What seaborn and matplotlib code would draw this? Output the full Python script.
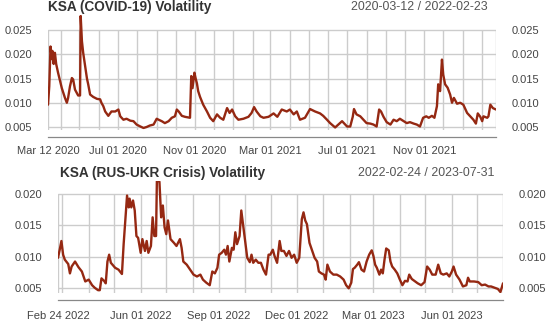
import numpy as np
import pandas as pd
import matplotlib
matplotlib.use("Agg")
import matplotlib.pyplot as plt
import matplotlib.dates as mdates
import seaborn as sns

# ---------------- data ----------------
covid_title = "KSA (COVID-19) Volatility"
covid_range = "2020-03-12 / 2022-02-23"
covid_start, covid_end = "2020-03-12", "2022-02-23"
covid_dates = [
    "2020-03-12", "2020-03-14", "2020-03-16", "2020-03-18", "2020-03-19", "2020-03-21", "2020-03-23",
    "2020-03-25", "2020-03-28", "2020-04-03", "2020-04-08", "2020-04-11", "2020-04-13", "2020-04-16",
    "2020-04-19", "2020-04-21", "2020-04-24", "2020-04-27", "2020-04-29", "2020-05-02", "2020-05-03",
    "2020-05-05", "2020-05-07", "2020-05-10", "2020-05-13", "2020-05-15", "2020-05-18", "2020-05-23",
    "2020-05-29", "2020-06-03", "2020-06-05", "2020-06-08", "2020-06-11", "2020-06-16", "2020-06-21",
    "2020-06-27", "2020-07-02", "2020-07-05", "2020-07-10", "2020-07-15", "2020-07-21", "2020-07-26",
    "2020-07-31", "2020-08-06", "2020-08-11", "2020-08-16", "2020-08-21", "2020-08-27", "2020-09-01",
    "2020-09-04", "2020-09-09", "2020-09-14", "2020-09-20", "2020-09-25", "2020-09-30", "2020-10-03",
    "2020-10-06", "2020-10-11", "2020-10-16", "2020-10-24", "2020-10-26", "2020-10-28", "2020-10-31",
    "2020-11-02", "2020-11-04", "2020-11-06", "2020-11-09", "2020-11-14", "2020-11-20", "2020-11-25",
    "2020-11-30", "2020-12-06", "2020-12-11", "2020-12-16", "2020-12-22", "2020-12-26", "2020-12-30",
    "2021-01-04", "2021-01-09", "2021-01-17", "2021-01-25", "2021-01-30", "2021-02-03", "2021-02-07",
    "2021-02-13", "2021-02-18", "2021-02-26", "2021-03-06", "2021-03-12", "2021-03-19", "2021-03-27",
    "2021-04-01", "2021-04-07", "2021-04-12", "2021-04-17", "2021-04-25", "2021-05-03", "2021-05-11",
    "2021-05-19", "2021-05-24", "2021-05-30", "2021-06-04", "2021-06-12", "2021-06-17", "2021-06-23",
    "2021-06-28", "2021-07-01", "2021-07-06", "2021-07-10", "2021-07-12", "2021-07-16", "2021-07-22",
    "2021-07-27", "2021-08-01", "2021-08-07", "2021-08-12", "2021-08-17", "2021-08-21", "2021-08-24",
    "2021-08-28", "2021-09-02", "2021-09-08", "2021-09-13", "2021-09-18", "2021-09-23", "2021-09-29",
    "2021-10-04", "2021-10-09", "2021-10-15", "2021-10-20", "2021-10-25", "2021-10-30", "2021-11-04",
    "2021-11-08", "2021-11-13", "2021-11-17", "2021-11-21", "2021-11-23", "2021-11-26", "2021-11-29",
    "2021-12-01", "2021-12-04", "2021-12-08", "2021-12-12", "2021-12-15", "2021-12-18", "2021-12-23",
    "2021-12-28", "2022-01-02", "2022-01-08", "2022-01-13", "2022-01-18", "2022-01-22", "2022-01-25",
    "2022-01-29", "2022-02-01", "2022-02-03", "2022-02-09", "2022-02-11", "2022-02-14", "2022-02-18",
    "2022-02-23",
]
covid_vol = [
    0.0096, 0.0134, 0.0216, 0.0190, 0.0207, 0.0180, 0.0203,
    0.0180, 0.0162, 0.0130, 0.0110, 0.0100, 0.0110, 0.0134,
    0.0151, 0.0148, 0.0127, 0.0120, 0.0115, 0.0115, 0.0279,
    0.0227, 0.0203, 0.0176, 0.0150, 0.0138, 0.0117, 0.0112,
    0.0108, 0.0107, 0.0100, 0.0093, 0.0082, 0.0073, 0.0082,
    0.0082, 0.0086, 0.0072, 0.0065, 0.0067, 0.0063, 0.0062,
    0.0055, 0.0051, 0.0048, 0.0050, 0.0053, 0.0055, 0.0067,
    0.0065, 0.0062, 0.0058, 0.0062, 0.0069, 0.0072, 0.0086,
    0.0082, 0.0073, 0.0071, 0.0069, 0.0155, 0.0130, 0.0162,
    0.0150, 0.0140, 0.0124, 0.0112, 0.0096, 0.0082, 0.0069,
    0.0062, 0.0076, 0.0069, 0.0065, 0.0089, 0.0079, 0.0086,
    0.0072, 0.0065, 0.0067, 0.0071, 0.0079, 0.0091, 0.0082,
    0.0072, 0.0069, 0.0071, 0.0078, 0.0071, 0.0086, 0.0082,
    0.0086, 0.0076, 0.0082, 0.0065, 0.0069, 0.0087, 0.0082,
    0.0078, 0.0073, 0.0065, 0.0058, 0.0049, 0.0055, 0.0062,
    0.0055, 0.0051, 0.0051, 0.0071, 0.0087, 0.0076, 0.0072,
    0.0065, 0.0058, 0.0057, 0.0055, 0.0051, 0.0086, 0.0082,
    0.0071, 0.0060, 0.0055, 0.0065, 0.0062, 0.0067, 0.0062,
    0.0058, 0.0060, 0.0057, 0.0055, 0.0051, 0.0069, 0.0072,
    0.0069, 0.0073, 0.0069, 0.0093, 0.0138, 0.0124, 0.0189,
    0.0158, 0.0138, 0.0131, 0.0117, 0.0100, 0.0110, 0.0098,
    0.0100, 0.0096, 0.0079, 0.0072, 0.0065, 0.0057, 0.0078,
    0.0071, 0.0062, 0.0072, 0.0069, 0.0072, 0.0096, 0.0089,
    0.0086,
]
covid_yticks = [0.005, 0.010, 0.015, 0.020, 0.025]
covid_xlabels = ["2020-03-12", "2020-07-01", "2020-11-01", "2021-03-01", "2021-07-01", "2021-11-01"]

war_title = "KSA (RUS-UKR Crisis) Volatility"
war_range = "2022-02-24 / 2023-07-31"
war_start, war_end = "2022-02-24", "2023-07-31"
war_dates = [
    "2022-02-24", "2022-02-26", "2022-02-28", "2022-03-02", "2022-03-04", "2022-03-08", "2022-03-10",
    "2022-03-12", "2022-03-16", "2022-03-20", "2022-03-24", "2022-03-28", "2022-04-01", "2022-04-05",
    "2022-04-08", "2022-04-12", "2022-04-14", "2022-04-16", "2022-04-19", "2022-04-21", "2022-04-23",
    "2022-04-25", "2022-04-27", "2022-05-02", "2022-05-06", "2022-05-10", "2022-05-12", "2022-05-14",
    "2022-05-16", "2022-05-18", "2022-05-19", "2022-05-21", "2022-05-23", "2022-05-25", "2022-05-27",
    "2022-05-29", "2022-06-01", "2022-06-03", "2022-06-06", "2022-06-08", "2022-06-10", "2022-06-13",
    "2022-06-15", "2022-06-17", "2022-06-19", "2022-06-20", "2022-06-23", "2022-06-25", "2022-06-27",
    "2022-06-29", "2022-07-01", "2022-07-03", "2022-07-06", "2022-07-10", "2022-07-13", "2022-07-17",
    "2022-07-19", "2022-07-21", "2022-07-25", "2022-07-29", "2022-08-02", "2022-08-06", "2022-08-10",
    "2022-08-13", "2022-08-17", "2022-08-21", "2022-08-24", "2022-08-27", "2022-08-30", "2022-09-01",
    "2022-09-04", "2022-09-07", "2022-09-09", "2022-09-11", "2022-09-13", "2022-09-16", "2022-09-18",
    "2022-09-20", "2022-09-22", "2022-09-25", "2022-09-27", "2022-09-29", "2022-10-02", "2022-10-04",
    "2022-10-07", "2022-10-09", "2022-10-11", "2022-10-14", "2022-10-17", "2022-10-20", "2022-10-23",
    "2022-10-26", "2022-10-29", "2022-10-31", "2022-11-03", "2022-11-05", "2022-11-08", "2022-11-11",
    "2022-11-13", "2022-11-16", "2022-11-19", "2022-11-22", "2022-11-25", "2022-11-28", "2022-12-01",
    "2022-12-04", "2022-12-07", "2022-12-09", "2022-12-11", "2022-12-13", "2022-12-16", "2022-12-20",
    "2022-12-22", "2022-12-25", "2022-12-27", "2022-12-30", "2023-01-02", "2023-01-04", "2023-01-06",
    "2023-01-09", "2023-01-13", "2023-01-17", "2023-01-21", "2023-01-25", "2023-01-28", "2023-01-31",
    "2023-02-03", "2023-02-05", "2023-02-07", "2023-02-10", "2023-02-12", "2023-02-15", "2023-02-18",
    "2023-02-21", "2023-02-24", "2023-02-27", "2023-03-01", "2023-03-03", "2023-03-05", "2023-03-08",
    "2023-03-10", "2023-03-12", "2023-03-14", "2023-03-16", "2023-03-19", "2023-03-21", "2023-03-23",
    "2023-03-26", "2023-03-29", "2023-04-01", "2023-04-04", "2023-04-07", "2023-04-10", "2023-04-12",
    "2023-04-15", "2023-04-19", "2023-04-22", "2023-04-26", "2023-04-30", "2023-05-03", "2023-05-06",
    "2023-05-09", "2023-05-13", "2023-05-16", "2023-05-19", "2023-05-22", "2023-05-26", "2023-05-29",
    "2023-06-01", "2023-06-03", "2023-06-06", "2023-06-10", "2023-06-14", "2023-06-18", "2023-06-20",
    "2023-06-22", "2023-06-27", "2023-07-02", "2023-07-06", "2023-07-10", "2023-07-14", "2023-07-17",
    "2023-07-21", "2023-07-25", "2023-07-28", "2023-07-31",
]
war_vol = [
    0.0098, 0.0111, 0.0125, 0.0103, 0.0095, 0.0088, 0.0073,
    0.0084, 0.0092, 0.0083, 0.0076, 0.0060, 0.0063, 0.0054,
    0.0050, 0.0046, 0.0046, 0.0065, 0.0061, 0.0057, 0.0092,
    0.0103, 0.0090, 0.0082, 0.0079, 0.0072, 0.0120, 0.0158,
    0.0198, 0.0179, 0.0193, 0.0179, 0.0190, 0.0174, 0.0133,
    0.0130, 0.0106, 0.0128, 0.0109, 0.0125, 0.0106, 0.0117,
    0.0163, 0.0133, 0.0133, 0.0223, 0.0220, 0.0163, 0.0182,
    0.0147, 0.0136, 0.0158, 0.0128, 0.0122, 0.0117, 0.0128,
    0.0114, 0.0092, 0.0087, 0.0079, 0.0071, 0.0068, 0.0071,
    0.0063, 0.0058, 0.0054, 0.0076, 0.0073, 0.0082, 0.0103,
    0.0106, 0.0111, 0.0103, 0.0117, 0.0092, 0.0114, 0.0111,
    0.0139, 0.0120, 0.0133, 0.0174, 0.0152, 0.0120, 0.0098,
    0.0091, 0.0103, 0.0090, 0.0095, 0.0090, 0.0090, 0.0079,
    0.0071, 0.0103, 0.0103, 0.0111, 0.0101, 0.0090, 0.0125,
    0.0109, 0.0109, 0.0101, 0.0109, 0.0098, 0.0103, 0.0090,
    0.0098, 0.0160, 0.0171, 0.0158, 0.0152, 0.0122, 0.0106,
    0.0098, 0.0092, 0.0076, 0.0073, 0.0071, 0.0063, 0.0087,
    0.0076, 0.0071, 0.0071, 0.0068, 0.0063, 0.0054, 0.0049,
    0.0058, 0.0080, 0.0082, 0.0087, 0.0091, 0.0079, 0.0076,
    0.0092, 0.0103, 0.0110, 0.0101, 0.0087, 0.0082, 0.0071,
    0.0079, 0.0073, 0.0095, 0.0113, 0.0110, 0.0092, 0.0084,
    0.0079, 0.0073, 0.0063, 0.0054, 0.0061, 0.0060, 0.0071,
    0.0064, 0.0060, 0.0057, 0.0054, 0.0059, 0.0084, 0.0079,
    0.0071, 0.0071, 0.0087, 0.0073, 0.0071, 0.0073, 0.0068,
    0.0076, 0.0084, 0.0071, 0.0063, 0.0052, 0.0054, 0.0066,
    0.0060, 0.0060, 0.0059, 0.0054, 0.0055, 0.0052, 0.0052,
    0.0050, 0.0048, 0.0043, 0.0057,
]
war_yticks = [0.005, 0.010, 0.015, 0.020]
war_xlabels = ["2022-02-24", "2022-06-01", "2022-09-01", "2022-12-01", "2023-03-01", "2023-06-01"]

# ---------------- style ----------------
sns.set_style("white")
plt.rcParams["font.family"] = ["Liberation Sans", "DejaVu Sans"]

W, H = 550, 322
LINE = "#952812"
GRID = "#cccccc"
TXT = "#444444"

fig = plt.figure(figsize=(W / 100, H / 100), dpi=100)


def panel(px_box, dates, vals, ylim, yticks, start, end, label_dates,
          title, rng, title_px, rng_px, lab_pad):
    l, t, r, b = px_box
    ax = fig.add_axes([l / W, 1 - b / H, (r - l) / W, (b - t) / H])
    df = pd.DataFrame({"date": pd.to_datetime(dates), "vol": vals})

    start_ts, end_ts = pd.Timestamp(start), pd.Timestamp(end)
    months = list(pd.date_range(start_ts, end_ts, freq="MS"))
    ticks = [start_ts] + [m for m in months if m != start_ts] + [end_ts]
    tnum = mdates.date2num(ticks)

    for yv in yticks:
        ax.axhline(yv, color=GRID, lw=1.0, zorder=0)
    ax.vlines(tnum, ylim[0], yticks[-1], color=GRID, lw=1.0, zorder=0)

    sns.lineplot(data=df, x="date", y="vol", ax=ax, color=LINE, linewidth=1.7, zorder=3)

    ax.set_xlim(tnum[0], tnum[-1])
    ax.set_ylim(*ylim)
    ax.set_xlabel("")
    ax.set_ylabel("")

    lab_set = {pd.Timestamp(d) for d in label_dates}
    ax.set_xticks(tnum)
    ax.set_xticklabels([tk.strftime("%b %d %Y") if tk in lab_set else "" for tk in ticks])
    ax.tick_params(axis="x", direction="out", length=3, width=0.9, color="#888888",
                   labelsize=8, labelcolor=TXT, pad=lab_pad)

    ax.set_yticks(yticks)
    ax.set_yticklabels([f"{v:.3f}" for v in yticks])
    ax.tick_params(axis="y", length=0, labelsize=8, labelcolor=TXT, pad=11.5,
                   labelleft=True, labelright=True)

    for s in ("top", "left", "right"):
        ax.spines[s].set_visible(False)
    ax.spines["bottom"].set_position(("outward", 5))
    ax.spines["bottom"].set_color("#888888")
    ax.spines["bottom"].set_linewidth(0.9)

    fig.text(title_px[0] / W, 1 - title_px[1] / H, title, ha="left", va="center",
             fontsize=9.8, fontweight="bold", color="#333333")
    fig.text(rng_px[0] / W, 1 - rng_px[1] / H, rng, ha="right", va="center",
             fontsize=8.9, color="#555555")
    return ax


panel((48, 14.5, 496, 129.9), covid_dates, covid_vol, (0.0044, 0.0282), covid_yticks,
      covid_start, covid_end, covid_xlabels, covid_title, covid_range, (48, 7.5), (488, 7.5), 3.5)
panel((58, 180.6, 503, 293.3), war_dates, war_vol, (0.0041, 0.0222), war_yticks,
      war_start, war_end, war_xlabels, war_title, war_range, (60, 172.5), (495, 172.5), 4.5)

fig.savefig("out.png", dpi=100, facecolor="white")
